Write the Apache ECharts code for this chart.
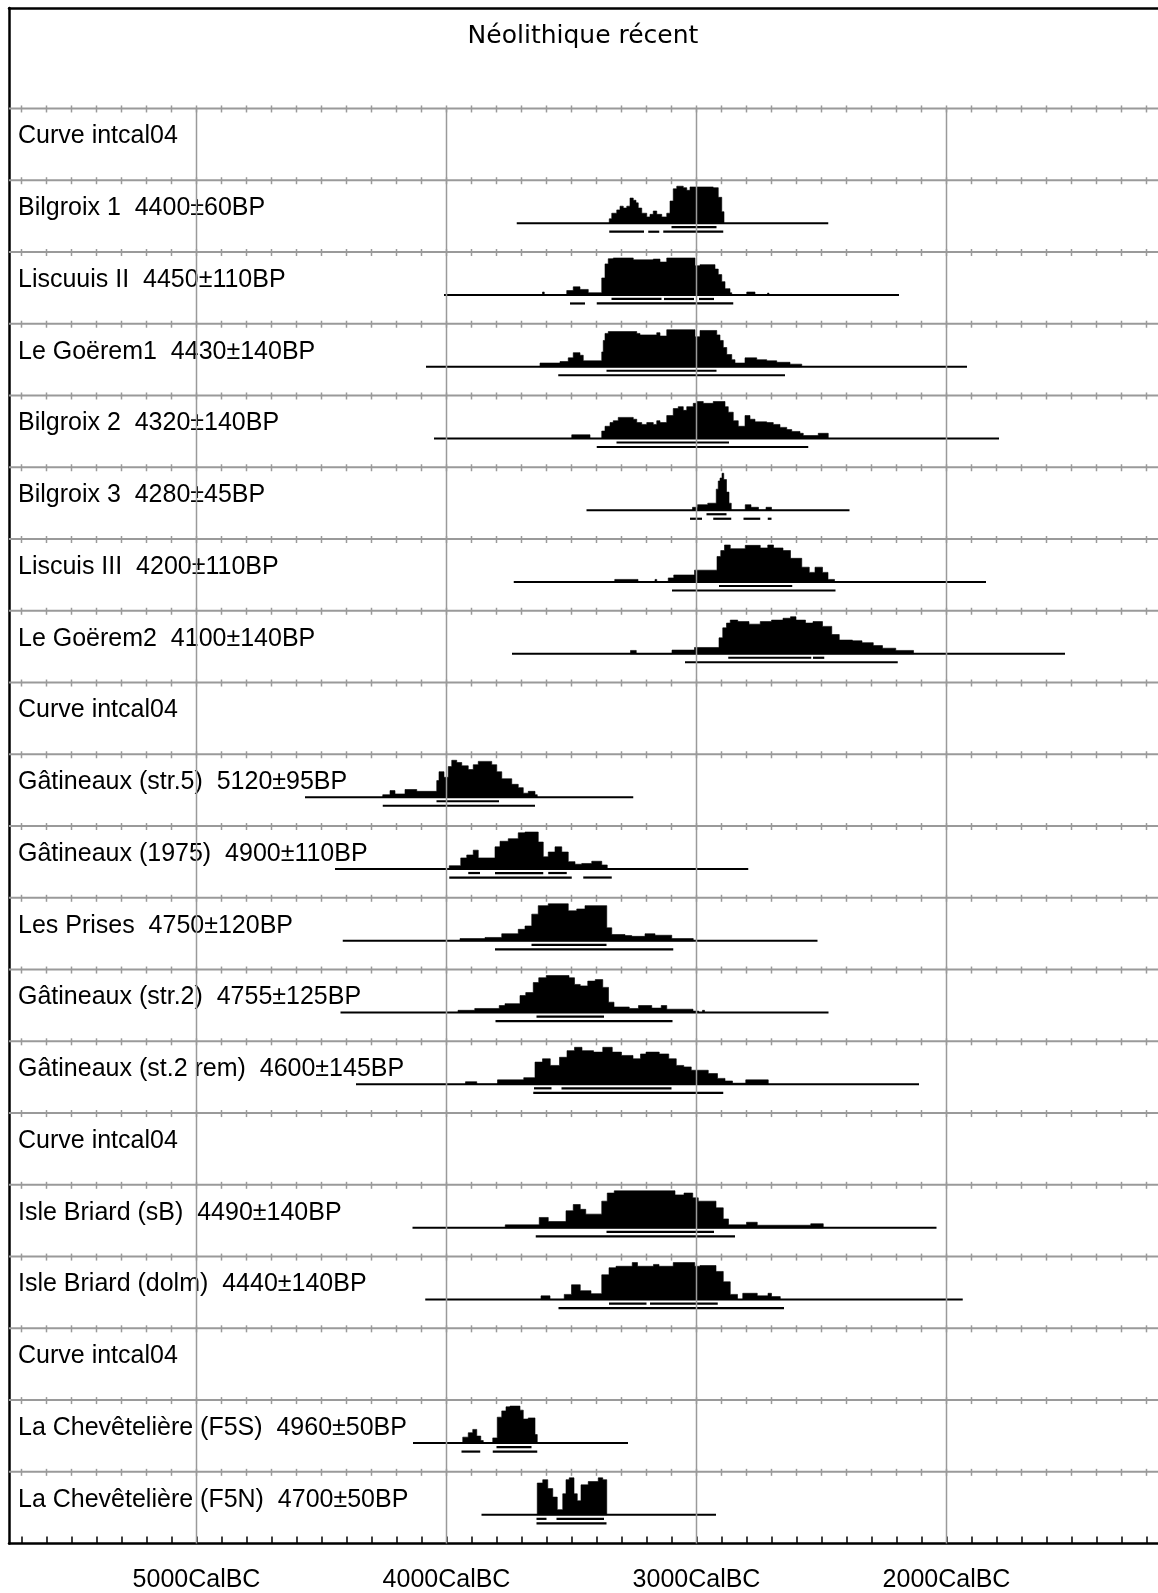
<!DOCTYPE html>
<html><head><meta charset="utf-8">
<script src="https://cdn.jsdelivr.net/npm/echarts@6/dist/echarts.min.js"></script>
<style>html,body{margin:0;padding:0;background:#fff}#c{width:1158px;height:1593px}</style>
</head><body><div id="c"></div>
<script>
// ---------------- data ----------------
const chartTitle = 'Néolithique récent';
const rowLabels = [
  'Curve intcal04',
  'Bilgroix 1  4400±60BP',
  'Liscuuis II  4450±110BP',
  'Le Goërem1  4430±140BP',
  'Bilgroix 2  4320±140BP',
  'Bilgroix 3  4280±45BP',
  'Liscuis III  4200±110BP',
  'Le Goërem2  4100±140BP',
  'Curve intcal04',
  'Gâtineaux (str.5)  5120±95BP',
  'Gâtineaux (1975)  4900±110BP',
  'Les Prises  4750±120BP',
  'Gâtineaux (str.2)  4755±125BP',
  'Gâtineaux (st.2 rem)  4600±145BP',
  'Curve intcal04',
  'Isle Briard (sB)  4490±140BP',
  'Isle Briard (dolm)  4440±140BP',
  'Curve intcal04',
  'La Chevêtelière (F5S)  4960±50BP',
  'La Chevêtelière (F5N)  4700±50BP'
];
const gridYears = [5000, 4000, 3000, 2000];
const tickLabels = ['5000CalBC', '4000CalBC', '3000CalBC', '2000CalBC'];

// step profiles: [year BC, relative height %] held until next year
const pBilgroix1 = [[3349,12],[3339,27],[3319,36],[3306,46],[3293,41],[3279,46],[3266,68],[3253,62],[3242,55],[3233,41],[3219,27],[3199,17],[3186,24],[3173,33],[3159,24],[3139,17],[3119,27],[3106,60],[3093,93],[3079,100],[3053,96],[3039,89],[3026,98],[2933,96],[2913,70],[2899,31],[2890,0]];
const pLiscuuis2 = [[3616,8],[3609,0],[3519,12],[3493,22],[3466,15],[3433,6],[3379,46],[3366,84],[3353,98],[3333,100],[3253,95],[3173,97],[3146,89],[3119,100],[3019,100],[3006,79],[2986,82],[2926,70],[2913,55],[2899,36],[2886,17],[2866,6],[2859,0],[2799,8],[2766,0],[2716,5],[2710,0]];
const pGoerem1 = [[3626,10],[3546,14],[3513,24],[3493,38],[3466,31],[3453,16],[3379,40],[3373,71],[3366,90],[3353,95],[3239,90],[3226,86],[3159,92],[3146,83],[3119,100],[3013,100],[3006,81],[2986,98],[2919,86],[2906,71],[2893,52],[2879,33],[2859,19],[2846,10],[2806,24],[2759,19],[2719,16],[2679,12],[2626,7],[2579,0]];
const pBilgroix2 = [[3499,10],[3426,0],[3379,20],[3366,33],[3346,43],[3333,48],[3313,57],[3253,52],[3239,43],[3219,38],[3199,43],[3173,38],[3159,48],[3146,43],[3119,62],[3093,81],[3073,86],[3053,76],[3039,86],[3013,95],[2999,100],[2973,95],[2933,100],[2886,86],[2873,71],[2853,48],[2833,33],[2806,62],[2786,52],[2766,45],[2719,43],[2693,38],[2666,30],[2639,24],[2619,19],[2586,14],[2573,8],[2513,14],[2473,0]];
const pBilgroix3 = [[3016,8],[2996,15],[2955,19],[2921,57],[2913,79],[2906,87],[2898,100],[2891,83],[2880,49],[2870,19],[2861,0],[2805,15],[2782,8],[2752,0],[2722,8],[2700,0]];
const pLiscuis3 = [[3327,7],[3234,0],[3166,7],[3159,0],[3113,11],[3091,19],[3008,32],[2918,69],[2903,85],[2888,100],[2865,90],[2805,99],[2745,92],[2715,100],[2692,92],[2654,85],[2624,64],[2579,40],[2549,26],[2526,40],[2496,26],[2474,7],[2448,0]];
const pGoerem2 = [[3264,9],[3241,0],[3098,10],[3008,17],[2910,43],[2895,70],[2880,83],[2865,91],[2835,87],[2790,80],[2745,87],[2700,91],[2654,96],[2624,100],[2602,91],[2564,83],[2534,87],[2496,74],[2459,52],[2429,37],[2376,35],[2338,30],[2293,22],[2256,15],[2203,9],[2132,0]];
const pGatStr5 = [[4255,7],[4226,18],[4206,9],[4166,21],[4119,16],[4039,45],[4030,69],[4010,54],[3993,83],[3979,100],[3959,94],[3939,85],[3913,75],[3893,88],[3873,97],[3819,88],[3799,69],[3779,50],[3739,35],[3713,26],[3693,11],[3673,16],[3646,7],[3637,0]];
const pGat1975 = [[3989,9],[3943,30],[3919,38],[3893,51],[3873,30],[3806,60],[3786,75],[3753,82],[3713,98],[3686,100],[3633,73],[3613,33],[3593,46],[3566,60],[3539,46],[3513,20],[3486,13],[3459,15],[3419,21],[3379,11],[3357,0]];
const pLesPrises = [[3946,6],[3846,9],[3779,19],[3713,31],[3686,40],[3659,72],[3633,95],[3593,100],[3513,81],[3479,86],[3446,95],[3359,35],[3339,17],[3286,14],[3259,12],[3206,19],[3166,15],[3099,6],[3013,0]];
const pGatStr2 = [[3954,6],[3887,11],[3789,19],[3766,24],[3706,46],[3683,54],[3653,81],[3631,94],[3601,100],[3510,94],[3488,76],[3465,72],[3435,85],[3405,89],[3375,68],[3352,28],[3330,15],[3269,11],[3232,19],[3179,12],[3141,19],[3119,9],[3014,4],[2991,0],[2976,6],[2968,0]];
const pGatSt2rem = [[3924,7],[3879,0],[3796,12],[3691,18],[3646,60],[3616,69],[3585,51],[3548,73],[3518,91],[3488,100],[3458,91],[3412,87],[3375,100],[3337,87],[3300,78],[3254,69],[3224,82],[3202,87],[3149,82],[3111,69],[3081,51],[3051,47],[3021,38],[2953,29],[2916,16],[2886,9],[2856,3],[2803,12],[2713,0]];
const pIsleSB = [[3765,8],[3629,28],[3593,17],[3522,46],[3493,63],[3465,50],[3443,37],[3379,72],[3357,94],[3329,100],[3086,89],[3050,94],[3015,81],[2993,72],[2922,54],[2893,24],[2872,8],[2800,15],[2757,7],[2543,11],[2493,0]];
const pIsleDolm = [[3622,10],[3586,0],[3529,14],[3500,40],[3465,24],[3422,16],[3379,67],[3350,86],[3322,90],[3257,100],[3236,90],[3172,95],[3150,90],[3093,100],[3007,90],[2986,92],[2922,76],[2893,48],[2865,14],[2836,0],[2815,17],[2757,10],[2714,17],[2700,8],[2665,0]];
const pChevF5S = [[3935,16],[3913,28],[3895,37],[3879,19],[3863,7],[3853,0],[3815,14],[3797,70],[3779,87],[3762,98],[3746,100],[3706,89],[3693,65],[3673,68],[3646,23],[3637,0]];
const pChevF5N = [[3637,86],[3615,95],[3595,71],[3575,48],[3557,14],[3535,57],[3522,95],[3509,100],[3490,57],[3477,38],[3462,81],[3433,90],[3393,100],[3375,95],[3359,0]];

// [row, profile]
const profiles = [
  [1, pBilgroix1], [2, pLiscuuis2], [3, pGoerem1], [4, pBilgroix2], [5, pBilgroix3],
  [6, pLiscuis3], [7, pGoerem2], [9, pGatStr5], [10, pGat1975], [11, pLesPrises],
  [12, pGatStr2], [13, pGatSt2rem], [15, pIsleSB], [16, pIsleDolm], [18, pChevF5S], [19, pChevF5N]
];
// [row, from BC, to BC]
const fullRanges = [[1,3719,2473],[2,4010,2190],[3,4082,1918],[4,4050,1790],[5,3440,2388],[6,3731,1842],[7,3738,1526],
  [9,4566,3253],[10,4446,2793],[11,4415,2516],[12,4424,2472],[13,4362,2110],[15,4136,2040],[16,4085,1935],[18,4134,3274],[19,3860,2922]];
const hpd68 = [[1,3100,2920],[2,3340,3140],[2,3130,3010],[2,2990,2930],[3,3360,2920],[4,3320,2870],[5,2960,2880],
  [6,2910,2617],[7,2873,2541],[7,2534,2489],[9,4040,3790],[10,3913,3866],[10,3806,3613],[10,3593,3519],
  [11,3660,3360],[12,3640,3370],[13,3650,3580],[13,3540,3100],[15,3360,2930],[16,3350,3200],[16,3186,2915],
  [18,3800,3660],[19,3640,3600],[19,3560,3370]];
const hpd95 = [[1,3349,3210],[1,3193,3149],[1,3133,2893],[2,3506,3446],[2,3399,2853],[3,3553,2646],[4,3399,2553],
  [5,3026,2978],[5,2933,2861],[5,2812,2745],[5,2715,2700],[6,3098,2444],[7,3046,2195],[9,4255,3646],
  [10,3989,3499],[10,3453,3339],[11,3806,3093],[12,3804,3096],[13,3653,2893],[15,3643,2846],[16,3552,2650],
  [18,3940,3865],[18,3815,3637],[19,3640,3360]];

// ---------------- layout constants ----------------
const X_MIN = 1154, X_MAX = 5750;       // calendar years BC (axis inverted)
const Y_MIN = -1.4, N_ROWS = 20;
const ROW_PX = 71.757;
const BASE = 43 / ROW_PX;        // baseline of each distribution inside its row
const PEAK = 37 / ROW_PX;        // height of a 100% bin
const OFF68 = 4 / ROW_PX, OFF95 = 8.5 / ROW_PX;
const LABEL_Y = 28 / ROW_PX;
const GREY = '#9a9a9a';

const tickYears = [];
for (let t = 1200; t <= 5700; t += 100) tickYears.push(t);

const seg = (a, b, stroke, lw) => ({ type: 'line', shape: { x1: a[0], y1: a[1], x2: b[0], y2: b[1] }, style: { stroke, lineWidth: lw } });

const chart = echarts.init(document.getElementById('c'), null, { renderer: 'canvas' });

const rangeSeries = (list, off, lw, name) => ({
  type: 'custom', name, z: 5, silent: true,
  data: list.map(r => [r[1], r[0], r[2]]),
  encode: { x: 0, y: 1 },
  renderItem: (params, api) => {
    const row = api.value(1);
    const a = api.coord([api.value(0), row + BASE + off]);
    const b = api.coord([api.value(2), row + BASE + off]);
    return seg(a, b, '#000', lw);
  }
});

chart.setOption({
  animation: false,
  backgroundColor: '#fff',
  graphic: [{
    type: 'text', x: 583, y: 36, z: 10,
    style: { text: chartTitle, font: '25px "DejaVu Sans"', fill: '#000',
      align: 'center', verticalAlign: 'middle', textAlign: 'center', textVerticalAlign: 'middle' }
  }],
  grid: { left: 9, right: 0, top: 8, bottom: 49.4, containLabel: false, outerBoundsMode: 'none' },
  xAxis: [{
    type: 'value', inverse: true, min: X_MIN, max: X_MAX, position: 'bottom',
    axisLine: { show: true, onZero: false, lineStyle: { color: '#000', width: 2.5 } },
    axisTick: { show: true, inside: true, length: 7, customValues: tickYears, lineStyle: { color: '#000', width: 1.5 } },
    axisLabel: { show: true, customValues: gridYears, margin: 24, color: '#000', fontSize: 25, fontFamily: 'Liberation Sans',
      formatter: v => tickLabels[gridYears.indexOf(v)] },
    splitLine: { show: false }
  }, {
    type: 'value', inverse: true, min: X_MIN, max: X_MAX, position: 'top',
    axisLine: { show: true, onZero: false, lineStyle: { color: '#000', width: 2.5 } },
    axisTick: { show: false }, axisLabel: { show: false }, splitLine: { show: false }
  }],
  yAxis: {
    type: 'value', inverse: true, min: Y_MIN, max: N_ROWS,
    axisLine: { show: true, onZero: false, lineStyle: { color: '#000', width: 2.5 } },
    axisTick: { show: false }, axisLabel: { show: false }, splitLine: { show: false }
  },
  series: [
    { // row separator lines with their 100-year ticks
      type: 'custom', name: 'rows', z: 1, silent: true,
      data: rowLabels.map((t, i) => [X_MAX, i]),
      encode: { x: 0, y: 1 },
      renderItem: (params, api) => {
        const row = api.value(1);
        const children = [seg(api.coord([X_MAX, row]), api.coord([X_MIN, row]), GREY, 2)];
        tickYears.forEach(t => {
          const p = api.coord([t, row]);
          children.push(seg([p[0], p[1] - 3], [p[0], p[1] + 4], GREY, 1.5));
        });
        return { type: 'group', children };
      }
    },
    { // row labels
      type: 'custom', name: 'labels', z: 2, silent: true,
      data: rowLabels.map((t, i) => [X_MAX, i]),
      encode: { x: 0, y: 1 },
      renderItem: (params, api) => {
        const row = api.value(1);
        const p = api.coord([X_MAX - 36, row + LABEL_Y]);
        return { type: 'text', x: p[0], y: p[1],
          style: { text: rowLabels[params.dataIndex], font: '25px "Liberation Sans"', fill: '#000',
            align: 'left', verticalAlign: 'middle', textAlign: 'left', textVerticalAlign: 'middle' } };
      }
    },
    { // probability distributions
      type: 'custom', name: 'distributions', z: 4, silent: true,
      data: profiles.map((p, i) => [p[1][0][0], p[0], i]),
      encode: { x: 0, y: 1 },
      renderItem: (params, api) => {
        const row = api.value(1);
        const prof = profiles[api.value(2)][1];
        const base = row + BASE;
        const pts = [api.coord([prof[0][0], base])];
        for (let i = 0; i < prof.length; i++) {
          const yv = base - prof[i][1] / 100 * PEAK;
          pts.push(api.coord([prof[i][0], yv]));
          if (i + 1 < prof.length) pts.push(api.coord([prof[i + 1][0], yv]));
        }
        pts.push(api.coord([prof[prof.length - 1][0], base]));
        return { type: 'polygon', shape: { points: pts }, style: { fill: '#000', stroke: '#000', lineWidth: 0.6 } };
      }
    },
    rangeSeries(fullRanges, 0, 2, 'fullRange'),
    rangeSeries(hpd68, OFF68, 2.2, 'hpd68'),
    rangeSeries(hpd95, OFF95, 2.2, 'hpd95'),
    { // vertical grid lines (drawn above the distributions)
      type: 'custom', name: 'grid', z: 8, silent: true,
      data: gridYears.map(y => [y, 0]),
      encode: { x: 0, y: 1 },
      renderItem: (params, api) => seg(api.coord([api.value(0), 0]), api.coord([api.value(0), N_ROWS]), GREY, 1.5)
    }
  ]
});
</script>
</body></html>
